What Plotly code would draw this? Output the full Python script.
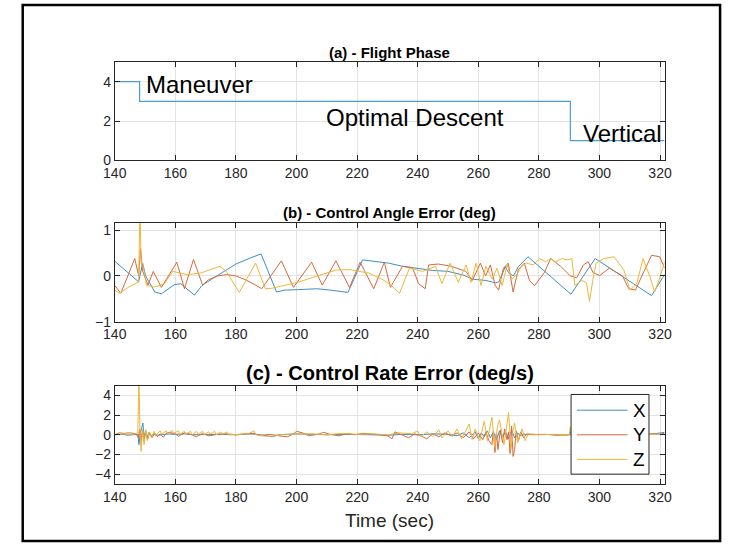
import plotly.graph_objects as go

# ---------------- data ----------------
phase_t = [140, 148.2, 290.4, 321.5]
phase_v = [4, 3, 1, 1]
phase_labels = ["Maneuver", "Optimal Descent", "Vertical"]

angle_x = [(140, 0.32), (147.9, -0.13), (149.2, 0.28), (150.2, 0.0), (153.2, -0.35), (155.4, -0.39),
           (159.7, -0.19), (161.8, -0.17), (166.3, -0.42), (168.8, -0.21), (172, -0.07), (175, 0.05),
           (180, 0.26), (185, 0.4), (188.3, 0.48), (193.4, -0.35), (196.1, -0.31), (200.4, -0.3),
           (206.8, -0.28), (211.1, -0.31), (217, -0.36), (221.8, 0.35), (226.1, 0.31), (230.4, 0.28),
           (235, 0.21), (240.3, 0.17), (245, 0.12), (250, 0.1), (255, 0.02), (258.2, -0.07),
           (262.5, -0.1), (265.7, -0.15), (266.8, -0.13), (268.9, 0.2), (270, 0.07), (271.6, 0.0),
           (273.2, 0.2), (276.4, 0.42), (290.6, -0.4), (298.6, 0.38), (317.2, -0.43), (321.5, 0.03)]

angle_y = [(140, -0.21), (142, -0.38), (146.6, 0.38), (147.9, 0.0), (148.5, 0.6), (149.2, 0.1),
           (151, -0.2), (152.7, 0.1), (155.4, -0.25), (160.5, 0.3), (163, -0.28), (166, 0.36),
           (169, -0.2), (171, -0.08), (174, 0.0), (177, 0.03), (180, 0.0), (183, -0.08), (186, -0.18),
           (188.5, -0.28), (195, 0.33), (199, -0.25), (205, 0.3), (208.5, -0.2), (213, 0.33),
           (217.5, -0.25), (221, 0.3), (225.5, -0.28), (229, 0.3), (231, -0.25), (235, 0.21),
           (238.3, 0.18), (240.3, -0.17), (242.5, -0.28), (243.6, 0.24), (246.8, 0.26), (251.1, 0.21),
           (255.9, 0.1), (258, -0.1), (260.7, 0.28), (262.4, 0.0), (264, 0.24), (265.6, -0.21),
           (266.7, -0.31), (268.3, 0.17), (269.9, 0.28), (271.5, -0.35), (273.2, 0.14), (275.2, 0.28),
           (276.9, -0.1), (278.6, -0.21), (281.8, 0.07), (283.9, 0.38), (287.2, 0.21), (290.4, 0.0),
           (292.5, -0.04), (294.7, 0.24), (296.3, 0.31), (297.9, 0.07), (300.1, 0.01), (303.3, 0.17),
           (307.6, 0.0), (309.7, -0.28), (311.9, -0.31), (314, 0.0), (317.2, 0.45), (319.9, 0.42),
           (321.5, 0.17)]

angle_z = [(140, -0.31), (141.5, -0.38), (144.7, -0.24), (147.9, -0.13), (148.3, 1.6), (148.7, 0.3),
           (149.2, 0.28), (150.5, -0.21), (153.2, -0.24), (156.4, -0.17), (159.1, 0.1), (163.9, 0.03),
           (168.2, 0.06), (172.5, 0.15), (174.7, 0.21), (176.8, 0.1), (181.1, -0.36), (186.5, 0.28),
           (189.7, -0.28), (191.8, -0.27), (200.4, -0.14), (206.8, 0.0), (213.2, 0.13), (217.5, 0.14),
           (220.7, 0.1), (223.9, 0.06), (228.2, -0.07), (231.4, -0.21), (234, -0.38), (237.3, 0.17),
           (241.6, 0.1), (245.9, 0.21), (248, -0.17), (250.7, 0.28), (253.4, -0.14), (256, 0.24),
           (257.6, -0.14), (259.3, 0.28), (260.9, -0.21), (262.5, 0.21), (264.6, -0.07), (266.2, 0.17),
           (267.9, -0.21), (269.5, 0.24), (271.1, -0.07), (272.7, 0.03), (274.3, 0.21), (275.9, 0.28),
           (278.1, 0.24), (280.2, 0.38), (282.3, 0.31), (283.9, 0.38), (285.5, 0.31), (287.7, 0.38),
           (289.3, 0.35), (290.9, 0.38), (291.9, -0.21), (294.1, -0.1), (295.7, -0.14), (296.7, -0.56),
           (297.8, -0.1), (298.9, 0.28), (301.5, 0.38), (304.8, 0.42), (308, 0.14), (310.1, -0.31),
           (312.3, -0.17), (314.4, 0.38), (316.6, 0.0), (318.2, -0.35), (319.8, -0.07), (321.5, 0.31)]

rate_x = [(140, 0.0), (143, 0.05), (144, -0.05), (147.6, 0.05), (148.0, -1.0), (148.4, 0.2), (148.8, 0.6),
          (149.3, 1.2), (149.7, -0.4), (150.2, 0.5), (150.7, -0.3), (151.3, 0.25), (152, -0.15),
          (153, 0.1), (154, -0.05), (156, 0.05), (158, 0.1), (160, 0.05), (163, 0.1), (166, 0.0),
          (170, 0.05), (175, 0.05), (180, 0.0), (185, 0.1), (188, 0.0), (190, -0.1), (192, -0.2),
          (194, 0.0), (197, 0.05), (200, 0.1), (205, 0.05), (210, 0.0), (215, 0.05), (220, 0.05),
          (225, 0.0), (230, -0.05), (235, 0.05), (240, 0.0), (245, 0.1), (250, 0.05), (253, -0.1),
          (255, 0.2), (257, -0.3), (259, 0.3), (260, -0.4), (261, 0.2), (262, -0.2), (263, 0.4),
          (264, -0.3), (265, 0.3), (266, -0.5), (267, 0.4), (268, -0.2), (269, 0.3), (270, -0.4),
          (271, 0.5), (272, -0.3), (273, 0.2), (274, -0.1), (275, 0.1), (276, 0.0), (278, 0.05),
          (282, 0.05), (286, 0.0), (290, 0.0), (290.4, 0.3), (290.8, -0.2), (291.5, 0.05), (295, 0.0),
          (300, 0.05), (305, 0.0), (310, 0.05), (315, 0.0), (318, 0.1), (320, 0.2), (321.5, 0.25)]

rate_y = [(140, 0.0), (141.5, 0.2), (143, 0.15), (145, 0.2), (147, 0.1), (147.8, -0.3), (148.2, 0.6),
          (148.6, -0.8), (149.1, 0.4), (149.6, -0.6), (150.2, 0.3), (150.8, -0.5), (151.5, 0.2),
          (152.3, -0.3), (153.2, 0.1), (154, -0.2), (155, 0.1), (156, -0.25), (157, 0.15), (158, 0.25),
          (160, 0.1), (161, -0.15), (163, 0.2), (165, 0.05), (167, -0.2), (169, 0.15), (171, -0.1),
          (174, 0.05), (177, 0.1), (180, 0.0), (183, 0.1), (186, 0.15), (188, -0.1), (191, 0.05),
          (194, -0.1), (197, -0.2), (199, 0.1), (200, 0.35), (202, 0.2), (204, -0.1), (207, 0.05),
          (209, 0.25), (211, 0.05), (214, -0.1), (217, 0.15), (219, 0.0), (222, 0.15), (225, 0.1),
          (228, 0.0), (230, -0.1), (231.5, -0.4), (232.5, 0.3), (234, 0.1), (236, -0.1), (237, -0.3),
          (239, 0.1), (241, -0.1), (243, -0.4), (245, 0.1), (247, -0.2), (249, 0.2), (251, -0.1),
          (253, 0.2), (255, -0.3), (257, 0.3), (258.5, -0.4), (260, 0.2), (261.5, -0.5), (262.5, 0.3),
          (263.5, -0.6), (264.5, -1.0), (265, 0.4), (265.5, -1.8), (266, 0.2), (266.5, -1.5),
          (267.3, 0.5), (268, -0.8), (268.7, 0.6), (269.5, -0.5), (270, 0.3), (270.5, -1.9),
          (271, 0.9), (271.5, -2.2), (272, -1.5), (272.5, 0.4), (273.3, -0.6), (274, 0.3),
          (275, -0.3), (276, 0.1), (278, 0.0), (282, 0.05), (286, -0.05), (290, 0.0), (290.5, 0.2),
          (291, -0.2), (292, 0.05), (298, 0.0), (305, 0.05), (312, 0.0), (318, 0.1), (320, 0.05),
          (321.5, 0.15)]

rate_z = [(140, 0.05), (143, 0.1), (146, 0.05), (147.6, 0.2), (148.0, 6.0), (148.3, 0.5),
          (148.7, -1.7), (149.2, 0.6), (149.7, -1.0), (150.2, 0.5), (150.8, -0.6), (151.4, 0.3),
          (152.1, -0.3), (153, 0.35), (153.6, 0.0), (155, 0.4), (155.5, 0.05), (157, 0.4),
          (157.5, 0.1), (159, 0.45), (159.5, 0.15), (161, 0.4), (161.5, 0.05), (163, 0.35),
          (163.5, 0.1), (165, 0.35), (165.5, 0.0), (167, 0.35), (167.5, 0.05), (169, 0.35),
          (169.5, 0.0), (171, 0.3), (171.5, 0.05), (173, 0.35), (173.5, 0.0), (175, 0.3),
          (175.5, 0.05), (177, 0.3), (177.5, 0.0), (181, 0.05), (184, 0.1), (186, 0.4), (186.5, 0.0),
          (190, -0.15), (193, -0.1), (196, 0.05), (200, 0.05), (205, 0.1), (210, 0.0), (215, 0.15),
          (220, 0.05), (225, 0.1), (230, 0.0), (234, 0.2), (238, 0.1), (240, 0.4), (241, -0.2),
          (243, 0.3), (245, -0.2), (247, 0.5), (248, -0.3), (250, 0.4), (251.5, -0.2), (253, 0.6),
          (254.5, -0.4), (256, 0.5), (257, 1.1), (258, -0.5), (259, 0.6), (260.5, -0.6), (262, 1.4),
          (263, -0.6), (264.5, 1.8), (265.5, -1.3), (266.3, 0.8), (267, 1.5), (268.5, -1.0),
          (269.3, 0.7), (270, 2.3), (270.8, -1.5), (271.5, 0.5), (272, 1.2), (273, -0.8),
          (274.5, 0.6), (275.5, -0.6), (276.5, 0.1), (280, 0.0), (285, 0.05), (290, 0.0),
          (290.4, 0.8), (290.8, -0.2), (291.5, 0.05), (300, 0.0), (310, 0.05), (318, 0.05),
          (320, 0.1), (321.5, 0.05)]

series_names = ["X", "Y", "Z"]
series_colors = ["#3d8fc6", "#d6693c", "#ecb73c"]

x_ticks = [140, 160, 180, 200, 220, 240, 260, 280, 300, 320]
yticks_a = [0, 2, 4]
yticks_b = [-1, 0, 1]
yticks_c = [-4, -2, 0, 2, 4]

titles = ["(a) - Flight Phase", "(b) - Control Angle Error (deg)", "(c) - Control Rate Error (deg/s)"]
xlabel = "Time (sec)"

# ---------------- layout helpers ----------------
W, H = 730, 552
def px(x):
    return x / W
def py(y):
    return 1 - y / H

FONT = "Liberation Sans, Arial, Helvetica, sans-serif"
AXC = "#262626"
GRID = "#e3e3e3"

fig = go.Figure()

fig.add_trace(go.Scatter(x=phase_t, y=phase_v, mode="lines", line=dict(color="#4a9fd0", width=1.2, shape="hv"),
                         xaxis="x", yaxis="y", showlegend=False, hoverinfo="skip"))

for data, name, col in zip([angle_x, angle_y, angle_z], series_names, series_colors):
    t, v = zip(*data)
    fig.add_trace(go.Scatter(x=list(t), y=list(v), mode="lines", line=dict(color=col, width=1),
                             xaxis="x2", yaxis="y2", name=name, showlegend=False))
for data, name, col in zip([rate_x, rate_y, rate_z], series_names, series_colors):
    t, v = zip(*data)
    fig.add_trace(go.Scatter(x=list(t), y=list(v), mode="lines", line=dict(color=col, width=1),
                             xaxis="x3", yaxis="y3", name=name, showlegend=False))

xdom = [px(105.5), px(670)]
ydoms = [[py(162), py(62)], [py(326), py(226)], [py(491), py(391)]]
yranges = [[0, 5], [-1, 1.15], [-5, 5]]
yticks = [yticks_a, yticks_b, yticks_c]

common = dict(showline=True, linecolor=AXC, linewidth=1, mirror="ticks", ticks="inside", ticklen=5,
              tickcolor=AXC, showgrid=True, gridcolor=GRID, gridwidth=1, zeroline=False,
              tickfont=dict(family=FONT, size=14, color=AXC))

layout = dict(width=W, height=H, margin=dict(l=0, r=0, t=0, b=0), paper_bgcolor="white",
              plot_bgcolor="white", showlegend=False)
for i in range(3):
    sx = "" if i == 0 else str(i + 1)
    layout["xaxis" + sx] = dict(domain=xdom, range=[140, 321.5], tickvals=x_ticks,
                                anchor="y" + sx, **common)
    layout["yaxis" + sx] = dict(domain=ydoms[i], range=yranges[i], tickvals=yticks[i],
                                anchor="x" + sx, **common)
fig.update_layout(**layout)

ann = []
title_y = [52, 215, 378]
title_size = [15, 15, 20]
for ttl, ty, ts in zip(titles, title_y, title_size):
    ann.append(dict(text="<b>" + ttl + "</b>", x=px(388), y=py(ty), xref="paper", yref="paper",
                    showarrow=False, xanchor="center", yanchor="middle",
                    font=dict(family=FONT, size=ts, color="black")))
ann.append(dict(text=xlabel, x=px(388), y=py(528), xref="paper", yref="paper", showarrow=False,
                xanchor="center", yanchor="middle", font=dict(family=FONT, size=19, color=AXC)))
# phase labels
ann.append(dict(text=phase_labels[0], x=149.8, y=3.85, xref="x", yref="y", showarrow=False,
                xanchor="left", yanchor="middle", font=dict(family=FONT, size=24, color="black")))
ann.append(dict(text=phase_labels[1], x=239, y=2.2, xref="x", yref="y", showarrow=False,
                xanchor="center", yanchor="middle", font=dict(family=FONT, size=24, color="black")))
ann.append(dict(text=phase_labels[2], x=321.4, y=1.38, xref="x", yref="y", showarrow=False,
                xanchor="right", yanchor="middle", font=dict(family=FONT, size=24, color="black")))

# manual legend
shapes = []
shapes.append(dict(type="rect", xref="paper", yref="paper", x0=px(574), x1=px(654), y0=py(481), y1=py(400),
                   line=dict(color=AXC, width=1), fillcolor="white", layer="above"))
leg_y = [416, 441, 466]
for name, col, ly in zip(series_names, series_colors, leg_y):
    shapes.append(dict(type="line", xref="paper", yref="paper", x0=px(580), x1=px(632), y0=py(ly), y1=py(ly),
                       line=dict(color=col, width=1), layer="above"))
    ann.append(dict(text=name, x=px(636), y=py(ly), xref="paper", yref="paper", showarrow=False,
                    xanchor="left", yanchor="middle", font=dict(family=FONT, size=19, color="black")))
# outer frame
shapes.append(dict(type="rect", xref="paper", yref="paper", x0=px(11), x1=px(727), y0=py(549), y1=py(4),
                   line=dict(color="black", width=2.5), layer="above"))

fig.update_layout(annotations=ann, shapes=shapes)
fig.write_html("out.html")
